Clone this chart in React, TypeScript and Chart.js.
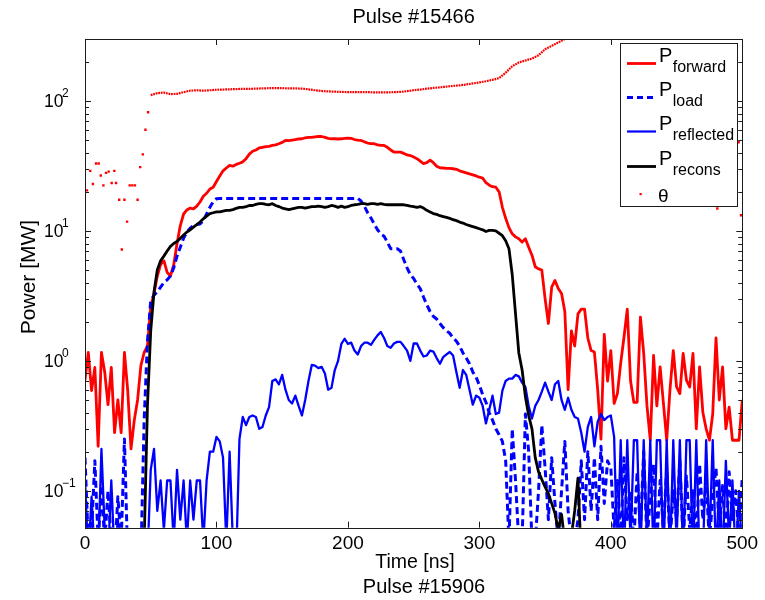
import { useEffect, useRef } from 'react';
import { Chart, registerables } from 'chart.js';

Chart.register(...registerables);

// ---------- DATA ----------
const TIME_STEP_NS = 2.5;
const TIME_NS = Array.from({ length: 201 }, (_, i) => i * TIME_STEP_NS);

const P_FORWARD = [
  0.71, 1.16, 0.59, 0.89, 0.22, 1.16, 0.82, 0.46, 0.89, 0.28,
  0.5, 0.28, 1.16, 0.59, 0.21, 0.35, 0.5, 0.92, 1.16, 1.3,
  2.6, 3.3, 4.5, 5.5, 5.9, 4.8, 4.5, 5.5, 8, 11,
  13.5, 14.5, 15, 14.8, 15.5, 16.7, 18.5, 19.5, 21, 21.7,
  24, 26.5, 29, 30.5, 31.9, 31.5, 32.5, 33.2, 34, 36,
  39, 41, 42, 43.5, 44, 44.5, 44.7, 45.5, 46, 46.9,
  48, 49.7, 49.5, 50, 50.5, 51, 51.2, 52, 52.5, 52.5,
  53, 53.3, 53.3, 52.5, 51.5, 51.2, 51.2, 51, 51.2, 51.5,
  51.8, 51.5, 50.5, 50, 49.7, 48.5, 47.5, 47, 46.9, 46,
  45.5, 45.5, 44, 42, 40.5, 40.4, 40.4, 39.5, 38.5, 38,
  37, 36, 34.5, 33, 33.5, 35, 33.5, 31.5, 30.6, 30.5,
  30.3, 30.3, 30.1, 29.8, 29, 28.5, 28, 27.5, 27, 26.5,
  25.9, 25.5, 23.5, 22.5, 21.9, 21.7, 20, 15.2, 12.5, 10.6,
  9.5, 9, 8.7, 8.2, 8.7, 7.5, 6.5, 5.3, 5.1, 5,
  3, 1.94, 3.7, 4.16, 3.6, 3.3, 2.4, 0.6, 1.7, 1.3,
  2.3, 2.5, 2.5, 1.5, 1.2, 1.17, 0.6, 0.25, 1.6, 0.7,
  1.2, 0.47, 0.56, 0.96, 1.52, 2.5, 0.7, 0.48, 0.48, 2.17,
  1.14, 0.45, 0.245, 1.1, 0.45, 0.9, 0.47, 0.245, 0.6, 1.2,
  0.63, 0.56, 1.14, 0.71, 0.63, 1.14, 0.3, 0.9, 0.4, 0.3,
  0.245, 0.39, 1.5, 0.5, 0.9, 0.3, 0.44, 0.245, 0.245, 0.245,
  0.5,
];

const P_LOAD = [
  0.18, 0.04, 0.05, 0.17, 0.04, 0.11, 0.04, 0.1, 0.04, 0.03,
  0.09, 0.04, 0.25, 0.03, 0.03, 0.03, 0.03, 0.03, 0.35, 1.4,
  2.9, 3.2, 3.4, 3.7, 4, 4.2, 4.5, 5.2, 6.4, 7.5,
  8.8, 9.8, 10.5, 11, 11.2, 11.3, 12, 13.5, 15.2, 16.8,
  17.7, 17.8, 17.8, 17.8, 17.8, 17.8, 17.8, 17.8, 17.8, 17.8,
  17.8, 17.8, 17.8, 17.8, 17.8, 17.8, 17.8, 17.8, 17.8, 17.8,
  17.8, 17.8, 17.8, 17.8, 17.8, 17.8, 17.8, 17.8, 17.8, 17.8,
  17.8, 17.8, 17.8, 17.8, 17.8, 17.8, 17.8, 17.8, 17.8, 17.8,
  17.8, 17.8, 17.8, 17.8, 17, 15.5, 13.8, 12.6, 11.3, 10.2,
  9.5, 9.1, 8.2, 7.3, 7.3, 7.3, 7, 6, 5.2, 4.6,
  4.3, 3.9, 3.6, 3.1, 2.7, 2.4, 2.2, 2.1, 1.94, 1.8,
  1.7, 1.63, 1.5, 1.42, 1.3, 1.15, 1.05, 0.95, 0.82, 0.75,
  0.65, 0.55, 0.48, 0.4, 0.35, 0.3, 0.27, 0.24, 0.17, 0.04,
  0.3, 0.12, 0.04, 0.04, 0.39, 0.2, 0.04, 0.04, 0.1, 0.32,
  0.15, 0.06, 0.18, 0.08, 0.04, 0.1, 0.24, 0.07, 0.04, 0.04,
  0.06, 0.17, 0.06, 0.2, 0.07, 0.18, 0.06, 0.22, 0.08, 0.17,
  0.15, 0.05, 0.12, 0.04, 0.18, 0.06, 0.1, 0.04, 0.14, 0.05,
  0.2, 0.04, 0.09, 0.16, 0.04, 0.12, 0.05, 0.15, 0.04, 0.1,
  0.06, 0.17, 0.04, 0.13, 0.05, 0.1, 0.04, 0.16, 0.06, 0.12,
  0.04, 0.09, 0.15, 0.05, 0.11, 0.04, 0.14, 0.06, 0.1, 0.04,
  0.13,
];

const P_REFLECTED = [
  0.12, 0.03, 0.09, 0.03, 0.03, 0.21, 0.05, 0.03, 0.12, 0.03,
  0.06, 0.03, 0.03, 0.05, 0.03, 0.03, 0.04, 0.03, 0.03, 0.03,
  0.145, 0.21, 0.07, 0.12, 0.05, 0.12, 0.12, 0.04, 0.145, 0.06,
  0.12, 0.04, 0.12, 0.06, 0.12, 0.12, 0.04, 0.12, 0.2, 0.2,
  0.26, 0.24, 0.18, 0.04, 0.2, 0.04, 0.03, 0.25, 0.37, 0.32,
  0.37, 0.38, 0.37, 0.3, 0.31, 0.38, 0.44, 0.7, 0.72, 0.66,
  0.78, 0.6, 0.5, 0.47, 0.54, 0.45, 0.38, 0.5, 0.7, 0.93,
  0.92, 0.88, 0.9, 0.8, 0.6, 0.62, 0.85, 1, 1.35, 1.48,
  1.35, 1.38, 1.2, 1.12, 1.3, 1.38, 1.38, 1.33, 1.45, 1.57,
  1.67, 1.5, 1.3, 1.26, 1.36, 1.4, 1.4, 1.3, 1.2, 1,
  1.36, 1.36, 1.2, 1.08, 1.1, 1.2, 1.18, 1.05, 0.95, 1.07,
  1.12, 1.17, 1.1, 0.82, 0.62, 0.85, 0.78, 0.6, 0.46, 0.54,
  0.52, 0.45, 0.33, 0.42, 0.54, 0.39, 0.4, 0.59, 0.7, 0.73,
  0.73, 0.78, 0.76, 0.68, 0.63, 0.45, 0.36, 0.45, 0.5, 0.58,
  0.68, 0.58, 0.5, 0.66, 0.7, 0.5, 0.42, 0.52, 0.42, 0.37,
  0.36, 0.28, 0.2, 0.31, 0.37, 0.22, 0.34, 0.39, 0.35, 0.37,
  0.38, 0.26, 0.03, 0.245, 0.03, 0.245, 0.04, 0.245, 0.245, 0.03,
  0.245, 0.04, 0.245, 0.03, 0.245, 0.245, 0.03, 0.245, 0.03, 0.245,
  0.04, 0.245, 0.03, 0.245, 0.245, 0.03, 0.245, 0.03, 0.03, 0.245,
  0.04, 0.245, 0.03, 0.12, 0.03, 0.17, 0.04, 0.12, 0.03, 0.1,
  0.03,
];

const P_RECONS = [
  0.01, 0.01, 0.01, 0.01, 0.01, 0.01, 0.01, 0.01, 0.01, 0.01,
  0.01, 0.01, 0.01, 0.01, 0.01, 0.01, 0.01, 0.01, 0.04, 0.45,
  1.7, 3.4, 5, 5.9, 6.4, 7, 7.6, 8, 8.3, 8.8,
  9.3, 9.8, 10.2, 10.7, 11.2, 11.7, 12.4, 13, 13.6, 13.8,
  14, 14, 14.2, 14.4, 14.4, 14.6, 14.9, 15.2, 15.2, 15.4,
  15.7, 15.7, 16, 16.2, 16.2, 16, 15.9, 16.2, 15.7, 15.4,
  15, 14.8, 14.6, 14.8, 15, 15.2, 15.2, 15, 15.2, 15.4,
  15.4, 15.5, 15.4, 15.2, 15.4, 15.7, 15.5, 15.2, 15.5, 15.2,
  15.4, 15.7, 15.9, 16, 16.2, 16.2, 16, 16.2, 16.2, 16,
  16.2, 16, 15.9, 15.9, 15.9, 15.9, 15.9, 15.9, 15.7, 15.5,
  15.4, 15.2, 15.4, 15, 14.4, 14, 13.6, 13.4, 13.1, 12.9,
  12.7, 12.5, 12.2, 12, 11.7, 11.5, 11.2, 11, 10.8, 10.6,
  10.4, 10.2, 9.9, 10.1, 10.1, 10, 9.6, 9.2, 8.4, 7.3,
  4.6, 2.3, 1.15, 0.85, 0.53, 0.38, 0.3, 0.18, 0.14, 0.122,
  0.107, 0.095, 0.08, 0.067, 0.05, 0.066, 0.04, 0.03, 0.045, 0.07,
  0.125, 0.03, 0.01, 0.01, 0.01, 0.01, 0.01, 0.01, 0.01, 0.01,
  0.01, 0.01, 0.01, 0.01, 0.01, 0.01, 0.01, 0.01, 0.01, 0.01,
  0.01, 0.01, 0.01, 0.01, 0.01, 0.01, 0.01, 0.01, 0.01, 0.01,
  0.01, 0.01, 0.01, 0.01, 0.01, 0.01, 0.01, 0.01, 0.01, 0.01,
  0.01, 0.01, 0.01, 0.01, 0.01, 0.01, 0.01, 0.01, 0.01, 0.01,
  0.01,
];

// theta: scattered samples (early noise and late outliers)
const THETA_SCATTER_T = [
  1.5, 4, 6, 8.4, 10.4, 12, 14, 16, 18, 20.3, 22.3, 23.6, 26, 28, 30, 32,
  34, 36, 38, 40, 42, 44, 46, 48, 481, 497.2, 499,
];
const THETA_SCATTER_V = [
  20.5, 29, 23, 33, 33, 26.7, 22.4, 28, 28.6, 23.4, 29, 23.4, 17.4, 7.2, 17.4, 11.8,
  22.4, 22.4, 22.4, 17.4, 31, 38.8, 60, 82, 14.9, 48.2, 13.2,
];
// theta: dense sampled part (drawn as a dotted trace)
const THETA_T = [
  50, 55, 60, 65, 70, 75, 80, 85, 90, 95, 100, 105, 110, 115, 120, 125,
  130, 135, 140, 145, 150, 155, 160, 165, 170, 175, 180, 185, 190, 195, 200, 205,
  210, 215, 220, 225, 230, 235, 240, 245, 250, 255, 260, 265, 270, 275, 280, 285,
  290, 295, 300, 305, 310, 315, 320, 325, 330, 335, 340, 345, 350, 355, 360, 365,
];
const THETA_V = [
  111, 115, 116, 113, 113.5, 117, 120, 121, 120, 121, 122, 122.5, 123, 123.5, 124, 124,
  124.5, 125, 125.5, 125.5, 125.5, 125, 125, 124.5, 123, 121, 119.5, 118.5, 118, 117.5, 117, 117,
  117, 117, 116.5, 116.5, 116.5, 117, 117.5, 119, 121, 122.5, 124.5, 126, 127.5, 129, 130.5, 132,
  134, 136.5, 139, 142, 145.5, 150, 165, 185, 198, 205, 212, 225, 250, 266, 282, 300,
];

const X_TICKS = [0, 100, 200, 300, 400, 500];
const Y_DECADES = [-1, 0, 1, 2];
const X_MIN = 0, X_MAX = 500;
const Y_MIN = 0.052, Y_MAX = 300;

const TITLE = 'Pulse #15466';
const X_LABEL = 'Time [ns]';
const Y_LABEL = 'Power [MW]';
const BOTTOM_NOTE = 'Pulse #15906';
const LEGEND_SUBS = ['forward', 'load', 'reflected', 'recons'];

const RED = '#ff0000';
const BLUE = '#0000ff';
const BLACK = '#000000';
const AXIS = '#1c1c1c';
const FONT = '"Liberation Sans", Arial, Helvetica, sans-serif';

function txt(ctx: CanvasRenderingContext2D, s: string, x: number, y: number, size: number,
  align: CanvasTextAlign = 'left', color = '#000', rot = 0) {
  ctx.save();
  ctx.translate(x, y);
  if (rot) ctx.rotate(rot);
  ctx.font = `${size}px ${FONT}`;
  ctx.fillStyle = color;
  ctx.textAlign = align;
  ctx.textBaseline = 'alphabetic';
  ctx.fillText(s, 0, 0);
  ctx.restore();
}

const decorPlugin = {
  id: 'decor',
  afterDraw(chart: any) {
    const { ctx, chartArea: a, scales } = chart;
    const xs = scales.x, ys = scales.y;
    ctx.save();
    ctx.strokeStyle = AXIS;
    ctx.lineWidth = 1;
    ctx.setLineDash([]);
    ctx.beginPath();
    for (const t of X_TICKS) {
      const px = Math.round(xs.getPixelForValue(t)) + 0.5;
      ctx.moveTo(px, a.bottom); ctx.lineTo(px, a.bottom - 6);
      ctx.moveTo(px, a.top); ctx.lineTo(px, a.top + 6);
    }
    for (let d = -2; d <= 2; d++) {
      for (let m = 1; m < 10; m++) {
        const v = m * Math.pow(10, d);
        if (v < Y_MIN || v > Y_MAX) continue;
        const py = Math.round(ys.getPixelForValue(v)) + 0.5;
        const L = m === 1 ? 6 : 4;
        ctx.moveTo(a.left, py); ctx.lineTo(a.left + L, py);
        ctx.moveTo(a.right, py); ctx.lineTo(a.right - L, py);
      }
    }
    ctx.stroke();
    const l = Math.round(a.left) + 0.5, t = Math.round(a.top) + 0.5;
    ctx.strokeRect(l, t, Math.round(a.right) - Math.round(a.left), Math.round(a.bottom) - Math.round(a.top));

    // x tick labels
    for (const tv of X_TICKS) {
      txt(ctx, String(tv), xs.getPixelForValue(tv), 549, 19, 'center');
    }
    // y tick labels 10^n
    for (const d of Y_DECADES) {
      const py = ys.getPixelForValue(Math.pow(10, d));
      ctx.font = `17.5px ${FONT}`;
      const w = ctx.measureText('10').width;
      txt(ctx, '10', 44, py + 6.5, 17.5, 'left');
      txt(ctx, d < 0 ? '\u2212' + Math.abs(d) : String(d), 44 + w - 1.5, py - 3.5, 12, 'left');
    }
    // titles
    txt(ctx, TITLE, (a.left + a.right) / 2, 23, 20, 'center');
    txt(ctx, X_LABEL, 415, 568, 19.5, 'center');
    txt(ctx, BOTTOM_NOTE, 424, 593, 20, 'center');
    txt(ctx, Y_LABEL, 35, 277, 21, 'center', '#000', -Math.PI / 2);

    // legend
    const LX0 = 620.5, LY0 = 43.5, LX1 = 737.5, LY1 = 206.5;
    ctx.fillStyle = '#fff';
    ctx.fillRect(LX0, LY0, LX1 - LX0, LY1 - LY0);
    ctx.strokeStyle = AXIS;
    ctx.lineWidth = 1;
    ctx.strokeRect(LX0, LY0, LX1 - LX0, LY1 - LY0);
    const rows = [63.5, 97.5, 131.5, 166.5];
    const styles = [
      { c: RED, dash: [] as number[], w: 2.8 },
      { c: BLUE, dash: [6, 4], w: 3 },
      { c: BLUE, dash: [] as number[], w: 2.2 },
      { c: BLACK, dash: [] as number[], w: 2.8 },
    ];
    rows.forEach((ry, i) => {
      ctx.beginPath();
      ctx.strokeStyle = styles[i].c;
      ctx.lineWidth = styles[i].w;
      ctx.setLineDash(styles[i].dash);
      ctx.moveTo(627, ry); ctx.lineTo(656, ry);
      ctx.stroke();
      ctx.setLineDash([]);
      txt(ctx, 'P', 659, ry - 1.5, 20, 'left');
      txt(ctx, LEGEND_SUBS[i], 672.7, ry + 8.5, 16, 'left');
    });
    ctx.fillStyle = RED;
    ctx.fillRect(639.5, 193, 2.2, 2.2);
    txt(ctx, '\u03B8', 658, 201.5, 19, 'left');
    ctx.restore();
  },
};

export default function App() {
  const ref = useRef<HTMLCanvasElement>(null);
  useEffect(() => {
    const pts = (vals: number[]) => TIME_NS.map((t, i) => ({ x: t, y: vals[i] }));
    const chart = new Chart(ref.current as HTMLCanvasElement, {
      type: 'line',
      data: {
        datasets: [
          {
            label: 'theta-scatter',
            data: THETA_SCATTER_T.map((t, i) => ({ x: t, y: THETA_SCATTER_V[i] })),
            showLine: false, pointRadius: 1.7, pointStyle: 'rect',
            pointBackgroundColor: RED, pointBorderWidth: 0, borderColor: RED,
            order: 1, clip: 0,
          } as any,
          {
            label: 'theta',
            data: THETA_T.map((t, i) => ({ x: t, y: THETA_V[i] })),
            borderColor: RED, borderWidth: 2.2, borderDash: [1.8, 0.8],
            pointRadius: 0, tension: 0, order: 2, clip: 0,
          } as any,
          {
            label: 'P recons', data: pts(P_RECONS), borderColor: BLACK, borderWidth: 2.8,
            pointRadius: 0, tension: 0, borderJoinStyle: 'round', order: 3, clip: 0,
          } as any,
          {
            label: 'P reflected', data: pts(P_REFLECTED), borderColor: BLUE, borderWidth: 2.3,
            pointRadius: 0, tension: 0, borderJoinStyle: 'round', order: 4, clip: 0,
          } as any,
          {
            label: 'P load', data: pts(P_LOAD), borderColor: BLUE, borderWidth: 3,
            borderDash: [7, 4], pointRadius: 0, tension: 0, borderJoinStyle: 'round', order: 5, clip: 0,
          } as any,
          {
            label: 'P forward', data: pts(P_FORWARD), borderColor: RED, borderWidth: 2.8,
            pointRadius: 0, tension: 0, borderJoinStyle: 'round', order: 6, clip: 0,
          } as any,
        ],
      },
      options: {
        animation: false,
        responsive: false,
        devicePixelRatio: 1,
        events: [],
        layout: { padding: { left: 85, right: 22.7, top: 39, bottom: 72.3 } },
        plugins: { legend: { display: false }, tooltip: { enabled: false }, title: { display: false } },
        scales: {
          x: { type: 'linear', min: X_MIN, max: X_MAX, display: false },
          y: { type: 'logarithmic', min: Y_MIN, max: Y_MAX, display: false },
        },
      } as any,
      plugins: [decorPlugin],
    });
    return () => chart.destroy();
  }, []);
  return (
    <div style={{ position: 'absolute', left: 0, top: 0, width: 765, height: 600, background: '#fff' }}>
      <canvas ref={ref} width={765} height={600} style={{ display: 'block', width: 765, height: 600 }} />
    </div>
  );
}
